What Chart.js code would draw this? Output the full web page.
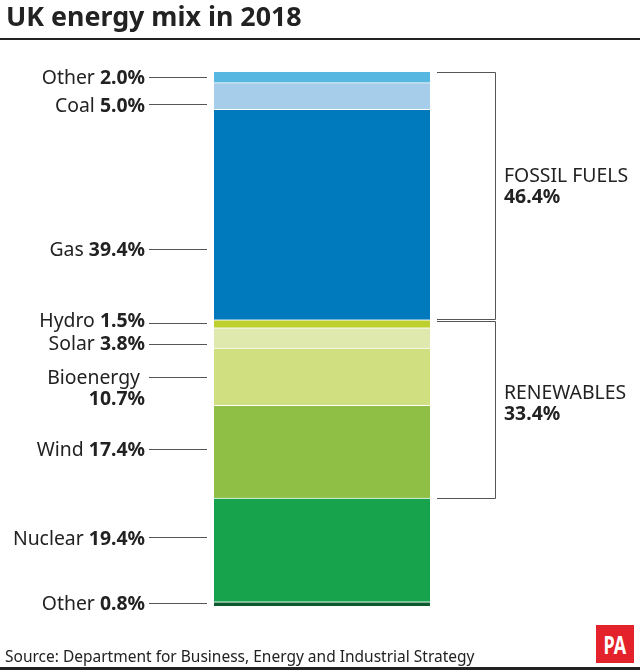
<!DOCTYPE html>
<html>
<head>
<meta charset="utf-8">
<script src="https://cdn.jsdelivr.net/npm/chart.js@4"></script>
<style>
    html, body { margin: 0; padding: 0; background: #fff; }
    #wrap { position: relative; width: 640px; height: 670px; overflow: hidden; font-family: "Noto Sans", sans-serif; color: #222; }
    #energyChart { position: absolute; left: 0; top: 0; }
    #title { position: absolute; left: 6px; top: -2px; font-size: 26.8px; font-weight: 700; line-height: 36px; white-space: nowrap; }
    #source { position: absolute; left: 5px; top: 646px; font-size: 15.5px; line-height: 20px; white-space: nowrap; }
    #logo { position: absolute; left: 596px; top: 625px; width: 38px; height: 38px; background: #e3222b; color: #fff; font-size: 25px; font-weight: 700; line-height: 38px; text-align: center; }
    #logo span { display: inline-block; transform: scaleX(0.72); }
    #topRule { position: absolute; left: 0; top: 38px; width: 640px; height: 2px; background: #222; }
    #bottomRule { position: absolute; left: 0; top: 667px; width: 640px; height: 3px; background: #222; }
</style>
</head>
<body>
<div id="wrap">
    <canvas id="energyChart" width="640" height="670"></canvas>
    <div id="title">UK energy mix in 2018</div>
    <div id="topRule"></div>
    <div id="source">Source: Department for Business, Energy and Industrial Strategy</div>
    <div id="logo"><span>PA</span></div>
    <div id="bottomRule"></div>
</div>
<script>
// Data, listed from the bottom of the stack upwards
var categories = ['Other', 'Nuclear', 'Wind', 'Bioenergy', 'Solar', 'Hydro', 'Gas', 'Coal', 'Other'];
var shares = [0.8, 19.4, 17.4, 10.7, 3.8, 1.5, 39.4, 5.0, 2.0];
var colours = ['#0c5a2e', '#17a34c', '#8fbf45', '#d0df80', '#dfe9ae', '#bdd02f', '#0079bd', '#a6cde9', '#58b7e0'];
var groupNames = ['RENEWABLES', 'FOSSIL FUELS'];
var groupShares = [33.4, 46.4];
var groupStarts = [20.2, 53.6];

// Layout of the callouts, same order as categories
var leaderY = [603, 537, 449, 377, 344, 323, 249, 104, 77];
var labelY = [604, 539, 450, 378, 344, 321, 250, 106, 78];
var groupTextY = [393, 176];

var labelFont = '19.4px "Noto Sans"';
var labelBold = 'bold 19.4px "Noto Sans"';

var calloutPlugin = {
    id: 'callouts',
    afterDraw: function (chart) {
        var ctx = chart.ctx;
        var y = chart.scales.y;
        ctx.save();
        ctx.textBaseline = 'middle';

        categories.forEach(function (name, i) {
            var ly = leaderY[i];
            var ty = labelY[i];
            var pct = shares[i].toFixed(1) + '%';
            ctx.strokeStyle = '#555';
            ctx.lineWidth = 1;
            ctx.beginPath();
            ctx.moveTo(149, ly + 0.5);
            ctx.lineTo(207, ly + 0.5);
            ctx.stroke();

            ctx.fillStyle = '#222';
            ctx.textAlign = 'right';
            if (name == 'Bioenergy') {
                // this one wraps on two lines in the original
                ctx.font = labelFont;
                ctx.fillText(name, 140, ty);
                ctx.font = labelBold;
                ctx.fillText(pct, 145, ty + 21);
            } else {
                ctx.font = labelBold;
                ctx.fillText(pct, 145, ty);
                var w = ctx.measureText(pct).width;
                ctx.font = labelFont;
                ctx.fillText(name + ' ', 145 - w, ty);
            }
        });

        // Brackets on the right
        groupNames.forEach(function (name, i) {
            var top = Math.round(y.getPixelForValue(groupStarts[i] + groupShares[i])) + 0.5;
            var bottom = Math.round(y.getPixelForValue(groupStarts[i])) + 0.5;
            if (i == 0) { top += 1; } else { bottom -= 1; }
            ctx.strokeStyle = '#555';
            ctx.lineWidth = 1;
            ctx.beginPath();
            ctx.moveTo(437, top);
            ctx.lineTo(495.5, top);
            ctx.lineTo(495.5, bottom);
            ctx.lineTo(437, bottom);
            ctx.stroke();

            ctx.fillStyle = '#222';
            ctx.textAlign = 'left';
            ctx.font = labelFont;
            ctx.fillText(name, 504, groupTextY[i]);
            ctx.font = labelBold;
            ctx.fillText(groupShares[i].toFixed(1) + '%', 504, groupTextY[i] + 21);
        });
        ctx.restore();
    }
};

new Chart(document.getElementById('energyChart').getContext('2d'), {
    type: 'bar',
    data: {
        labels: ['UK energy mix'],
        datasets: categories.map(function (name, i) {
            return {
                label: name,
                data: [shares[i]],
                backgroundColor: colours[i],
                borderColor: '#fff',
                // white hairline between segments, none above the top one
                borderWidth: { top: i == categories.length - 1 ? 0 : 1, bottom: 0, left: 0, right: 0 },
                borderSkipped: false,
                barPercentage: 1,
                categoryPercentage: 1
            };
        })
    },
    options: {
        responsive: false,
        animation: false,
        layout: { padding: { left: 214, right: 210, top: 72, bottom: 64 } },
        plugins: { legend: { display: false }, tooltip: { enabled: false } },
        scales: {
            x: { stacked: true, display: false },
            y: { stacked: true, display: false, min: 0, max: 100 }
        }
    },
    plugins: [calloutPlugin]
});
</script>
</body>
</html>
